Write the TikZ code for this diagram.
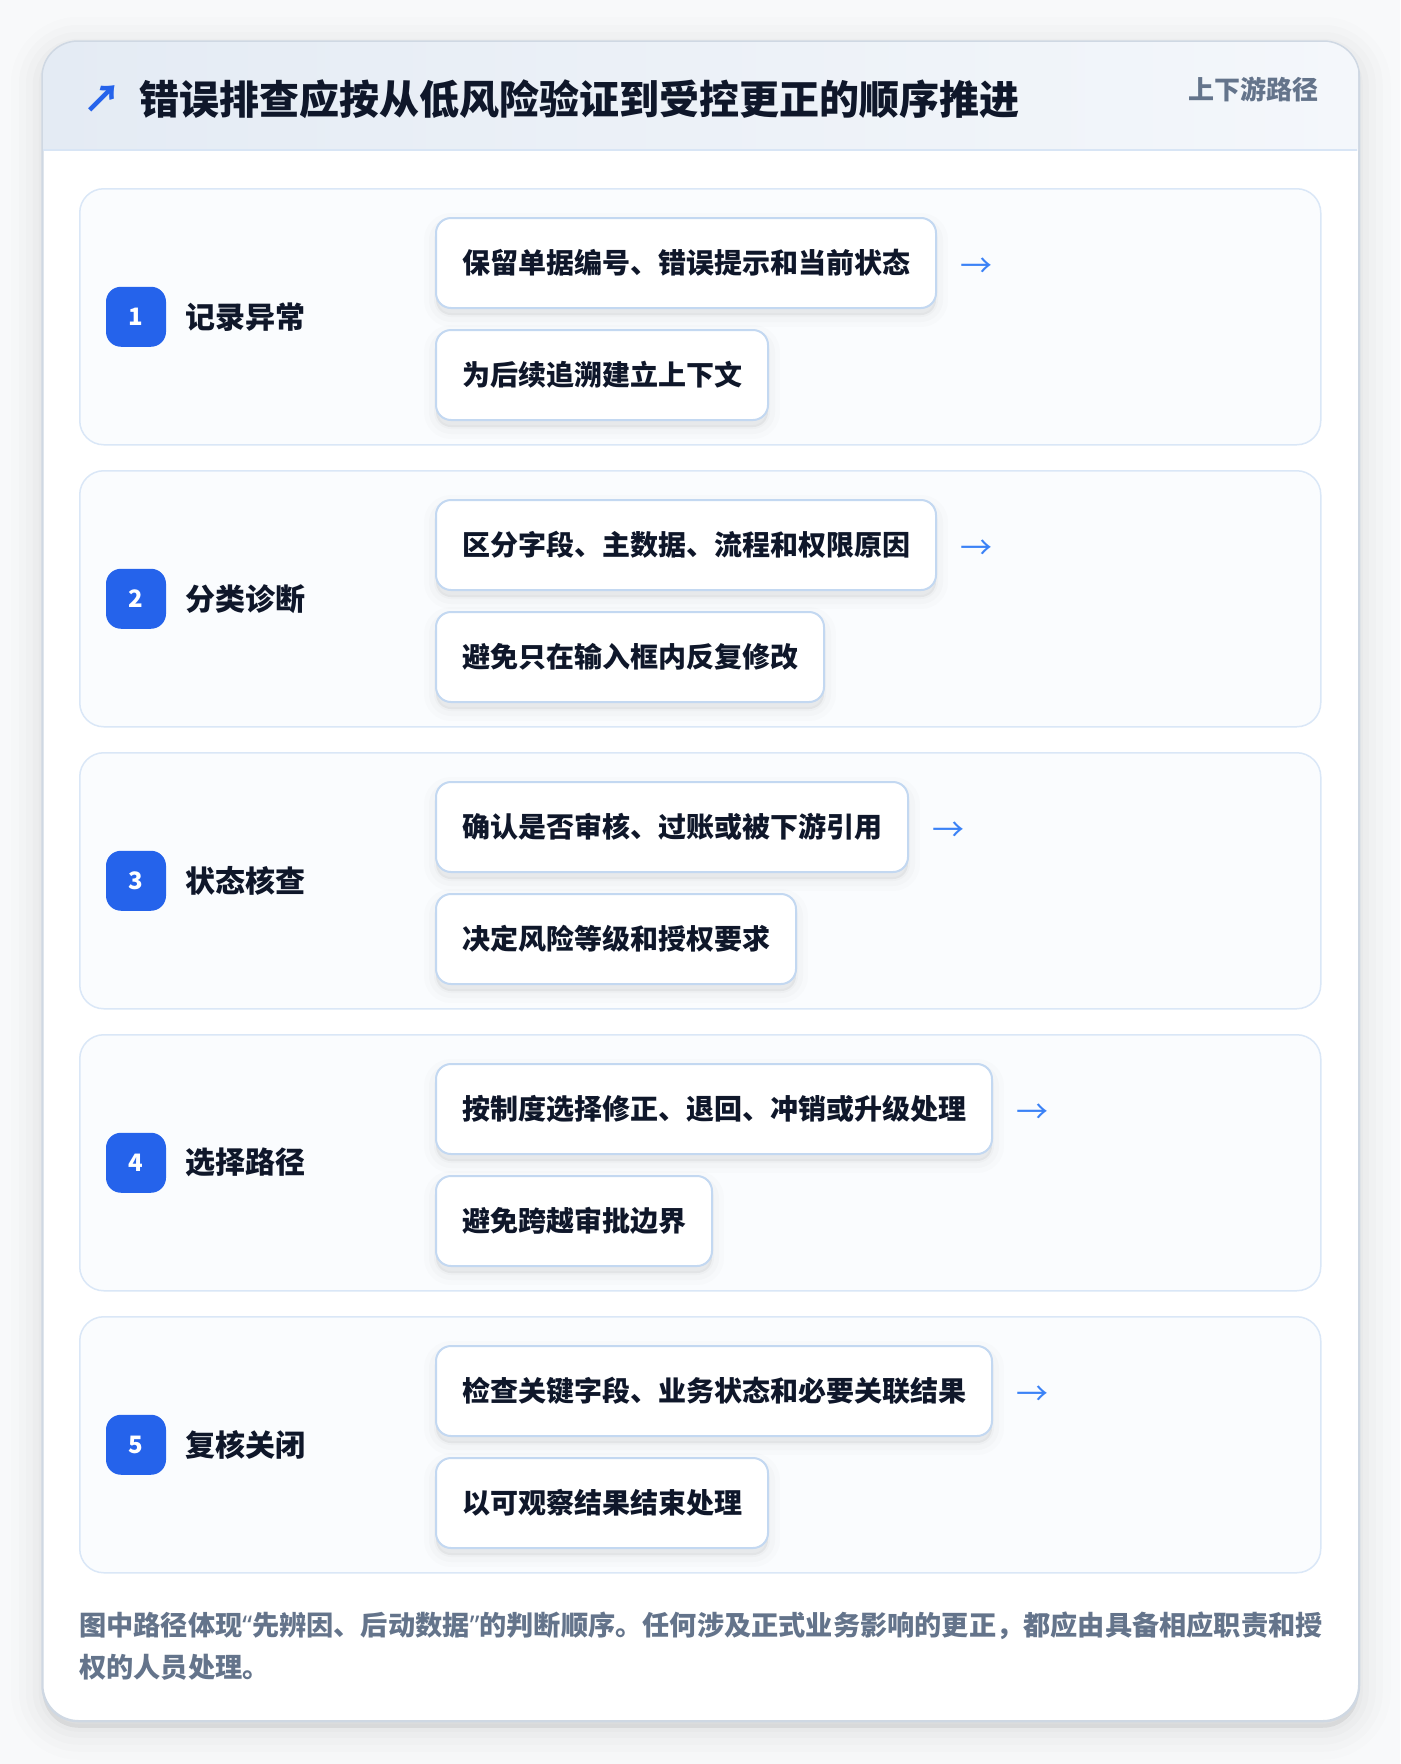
\documentclass[tikz,border=0pt]{standalone}
\usepackage{fontspec}
\setmainfont{Noto Sans CJK SC}
\newfontfamily\latinfont{Noto Sans}
\usetikzlibrary{positioning}
\definecolor{pagebg}{HTML}{F8F9FA}
\definecolor{cardline}{HTML}{CFD8E3}
\definecolor{headA}{HTML}{E4EBF4}
\definecolor{headB}{HTML}{F4F7FB}
\definecolor{headline}{HTML}{D8E5F5}
\definecolor{boxline}{HTML}{DAE7F7}
\definecolor{boxfill}{HTML}{FAFCFE}
\definecolor{subline}{HTML}{C3D8F1}
\definecolor{ink}{HTML}{0F172A}
\definecolor{muted}{HTML}{64748B}
\definecolor{badgeblue}{HTML}{2563EB}
\definecolor{arrowblue}{HTML}{3B82F6}
\newcommand{\fs}[1]{\fontsize{#1}{1.2\dimexpr#1pt\relax}\selectfont\bfseries}
\newcommand{\openq}{{\latinfont“}}
\newcommand{\closeq}{{\latinfont”}}
\tikzset{
  softshadow/.style 2 args={preaction={draw=black, fill=black, opacity=#2,
    line width=#1, transform canvas={yshift=-7pt}}},
  card/.style={draw=cardline, line width=1.5pt, fill=white, rounded corners=36pt,
    inner sep=0pt, anchor=north west,
    softshadow={64pt}{0.008}, softshadow={48pt}{0.01}, softshadow={34pt}{0.012},
    softshadow={20pt}{0.014}, softshadow={8pt}{0.016}},
  stepbox/.style={draw=boxline, line width=1.5pt, fill=boxfill, rounded corners=24pt,
    inner sep=0pt, anchor=north west, minimum width=1241pt, minimum height=256pt},
  badge/.style={fill=badgeblue, rounded corners=15pt, minimum size=60pt, inner sep=0pt,
    text=white, font=\fs{24}},
  steplabel/.style={inner sep=0pt, text=ink, font=\fs{30}},
  subbox/.style={draw=subline, line width=2pt, fill=white, rounded corners=15pt,
    inner xsep=26pt, inner ysep=0pt, minimum height=90pt, text=ink, font=\fs{28},
    softshadow={24pt}{0.01}, softshadow={14pt}{0.014}, softshadow={4pt}{0.02}},
  nexttip/.style={inner sep=0pt, text=arrowblue, font=\fontsize{32}{32}\selectfont},
  note/.style={inner sep=0pt, anchor=west, text=muted, font=\fs{27.2}}
}
\begin{document}
\begin{tikzpicture}[x=1pt,y=-1pt]
\useasboundingbox (0,0) rectangle (1400,1764);
\fill[pagebg] (0,0) rectangle (1400,1764);
%card and header band
\node[card, minimum width=1316pt, minimum height=1679pt] (card) at (42,41) {};
\begin{scope}
\clip[rounded corners=36pt] (card.north west) rectangle (card.south east);
\shade[left color=headA, right color=headB] (card.north west) rectangle (1358,150);
\end{scope}
\draw[headline, line width=1.5pt] (42.75,150) -- (1357.25,150);
\draw[cardline, line width=1.5pt, rounded corners=36pt] (card.north west) rectangle (card.south east);
%title
\node[inner sep=0pt, text=badgeblue, font=\fs{38}] (ttlarrow) at (102,99) {↗};
\node[inner sep=0pt, anchor=west, text=ink, font=\fs{40}] (ttl) at (139,99) {错误排查应按从低风险验证到受控更正的顺序推进};
\node[inner sep=0pt, anchor=east, text=muted, font=\fs{26}] (tag) at (1319,89) {上下游路径};
%steps
\foreach \i/\lab/\ta/\tb in {
  1/记录异常/保留单据编号、错误提示和当前状态/为后续追溯建立上下文,
  2/分类诊断/区分字段、主数据、流程和权限原因/避免只在输入框内反复修改,
  3/状态核查/确认是否审核、过账或被下游引用/决定风险等级和授权要求,
  4/选择路径/按制度选择修正、退回、冲销或升级处理/避免跨越审批边界,
  5/复核关闭/检查关键字段、业务状态和必要关联结果/以可观察结果结束处理}{
  \pgfmathsetmacro\ytop{188+282*(\i-1)}
  \node[stepbox] (box\i) at (79,\ytop) {};
  \node[badge] (num\i) at ([xshift=57pt]box\i.west) {\i};
  \node[steplabel, right=19pt of num\i] (lab\i) {\lab};
  \node[subbox, anchor=north west] (sa\i) at ([xshift=356pt,yshift=-29pt]box\i.north west) {\ta};
  \node[subbox, below=20pt of sa\i.south west, anchor=north west] (sb\i) {\tb};
  \node[nexttip, right=23pt of sa\i, yshift=-5pt] (tip\i) {→};
}
%footnote
\node[note] (note1) at (79,1626) {图中路径体现\openq 先辨因、后动数据\closeq 的判断顺序。任何涉及正式业务影响的更正，都应由具备相应职责和授};
\node[note] (note2) at (79,1667) {权的人员处理。};
\end{tikzpicture}
\end{document}
